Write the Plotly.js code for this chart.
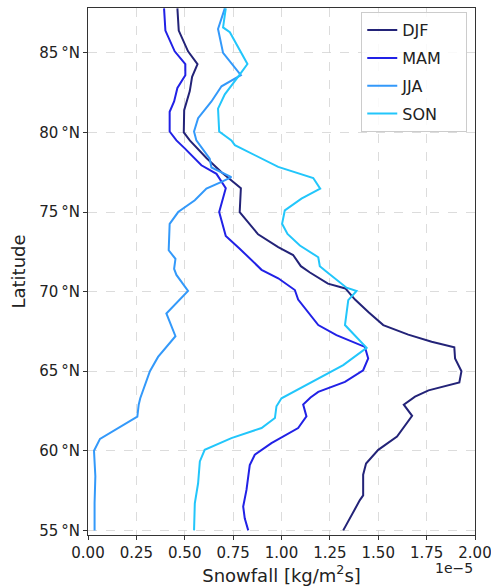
<!DOCTYPE html>
<html>
<head>
<meta charset="utf-8">
<script src="https://cdn.plot.ly/plotly-3.0.1.min.js"></script>
<style>html,body{margin:0;padding:0;background:#fff;}#chart{width:491px;height:587px;}</style>
</head>
<body>
<div id="chart"></div>
<script>
// Snowfall values in units of 1e-5 kg/m^2 s
const seasons = ["DJF", "MAM", "JJA", "SON"];
const colors = ["#232378", "#2121e6", "#3399fa", "#22c6fb"];

const djfLat = [87.8,86.4,85.1,84.3,83.5,82.6,81.4,80.0,79.5,78.4,77.5,77.0,76.5,75.0,73.6,72.8,72.3,71.6,71.2,70.5,70.2,69.5,68.7,67.9,67.3,66.85,66.5,65.8,65.0,64.3,63.8,63.4,62.9,62.2,60.9,60.06,59.2,58.5,57.2,56.9,55.9,55.0];
const djfVal = [0.462,0.469,0.517,0.566,0.538,0.526,0.497,0.495,0.526,0.612,0.69,0.741,0.79,0.784,0.879,0.983,1.06,1.10,1.147,1.24,1.33,1.38,1.45,1.526,1.655,1.776,1.893,1.897,1.93,1.919,1.76,1.69,1.632,1.675,1.597,1.50,1.437,1.422,1.422,1.405,1.362,1.319];

const mamLat = [87.8,86.4,85.1,84.3,83.6,82.8,81.95,81.3,80.06,79.5,79.0,77.94,77.4,76.5,75.0,73.5,72.7,71.95,71.37,70.84,70.1,69.5,67.9,67.27,66.53,65.8,65.06,64.33,63.7,63.35,62.9,62.16,61.43,60.48,59.75,59.1,57.54,56.5,55.76,55.0];
const mamVal = [0.393,0.40,0.448,0.503,0.503,0.462,0.445,0.422,0.422,0.457,0.50,0.586,0.664,0.712,0.678,0.712,0.784,0.845,0.897,0.983,1.069,1.086,1.19,1.284,1.431,1.448,1.422,1.328,1.19,1.15,1.112,1.129,1.086,0.948,0.862,0.836,0.819,0.802,0.81,0.828];

const jjaLat = [87.8,86.5,85.0,83.6,82.9,81.95,80.9,80.06,79.5,78.36,77.8,77.2,76.9,76.47,75.74,75.0,74.26,72.6,72.06,71.43,71.05,70.04,68.63,67.2,65.9,65.0,63.3,62.9,62.15,60.75,60.0,58.4,56.7,55.0];
const jjaVal = [0.707,0.672,0.698,0.790,0.69,0.638,0.569,0.548,0.56,0.629,0.638,0.741,0.69,0.612,0.552,0.466,0.422,0.417,0.452,0.445,0.457,0.517,0.405,0.452,0.362,0.32,0.27,0.262,0.255,0.062,0.031,0.038,0.034,0.034];

const sonLat = [87.8,86.6,86.3,84.3,83.63,82.4,81.5,80.06,79.5,79.2,77.84,77.14,76.47,75.84,75.1,74.26,73.63,72.9,72.16,71.6,71.3,70.25,70.04,69.47,67.9,66.47,65.38,64.64,63.6,63.3,62.8,62.06,61.43,60.8,60.06,59.33,57.96,56.7,55.0];
const sonVal = [0.712,0.698,0.733,0.824,0.784,0.707,0.672,0.678,0.741,0.759,0.983,1.164,1.2,1.103,1.017,1.003,1.031,1.095,1.19,1.198,1.228,1.336,1.388,1.345,1.328,1.44,1.319,1.207,1.043,1.0,0.974,0.966,0.897,0.741,0.603,0.578,0.569,0.552,0.548];

const latTicks = [55, 60, 65, 70, 75, 80, 85];
const latTickText = latTicks.map(v => v + "\u2009°N");
const xTicks = [0, 0.25, 0.5, 0.75, 1.0, 1.25, 1.5, 1.75, 2.0];
const xTickText = xTicks.map(v => v.toFixed(2));

const lats = [djfLat, mamLat, jjaLat, sonLat];
const vals = [djfVal, mamVal, jjaVal, sonVal];

const font = "DejaVu Sans, Liberation Sans, sans-serif";
const pad = "\u00a0\u00a0\u00a0\u00a0";

const traces = seasons.map((s, i) => ({
  type: "scatter", mode: "lines", name: s + pad,
  x: vals[i], y: lats[i],
  line: {color: colors[i], width: 2},
  legendgroup: s
}));

const axisCommon = {
  showline: true, linecolor: "#333", linewidth: 1, mirror: true,
  ticks: "outside", ticklen: 4, tickcolor: "#333", tickwidth: 1,
  showgrid: true, gridcolor: "#d3d3d3", gridwidth: 0.8, griddash: "dash",
  zeroline: false, tickfont: {family: font, size: 15, color: "#222"},
  ticklabeloverflow: "allow"
};

const layout = {
  width: 491, height: 587,
  margin: {l: 88, r: 16, t: 8, b: 52, pad: 0},
  paper_bgcolor: "#fff", plot_bgcolor: "#fff",
  showlegend: true,
  xaxis: Object.assign({}, axisCommon, {
    range: [0, 2.0], tickvals: xTicks, ticktext: xTickText,
    title: {text: "Snowfall [kg/m<sup>2</sup>s]", font: {family: font, size: 18, color: "#222"}, standoff: 6},
    automargin: false
  }),
  yaxis: Object.assign({}, axisCommon, {
    range: [54.71, 87.82], tickvals: latTicks, ticktext: latTickText,
    title: {text: "Latitude", font: {family: font, size: 18, color: "#222"}, standoff: 8},
    automargin: false
  }),
  legend: {
    x: 0.98, y: 0.992, xanchor: "right", yanchor: "top",
    bgcolor: "rgba(255,255,255,0.85)", bordercolor: "#cccccc", borderwidth: 1,
    font: {family: font, size: 16, color: "#222"},
    tracegroupgap: 4
  },
  annotations: [{
    text: "1e\u22125", xref: "paper", yref: "paper", x: 1.0, y: -0.043,
    xanchor: "right", yanchor: "top", showarrow: false,
    font: {family: font, size: 14, color: "#222"}
  }]
};

Plotly.newPlot("chart", traces, layout, {displayModeBar: false, staticPlot: true});
</script>
</body>
</html>
